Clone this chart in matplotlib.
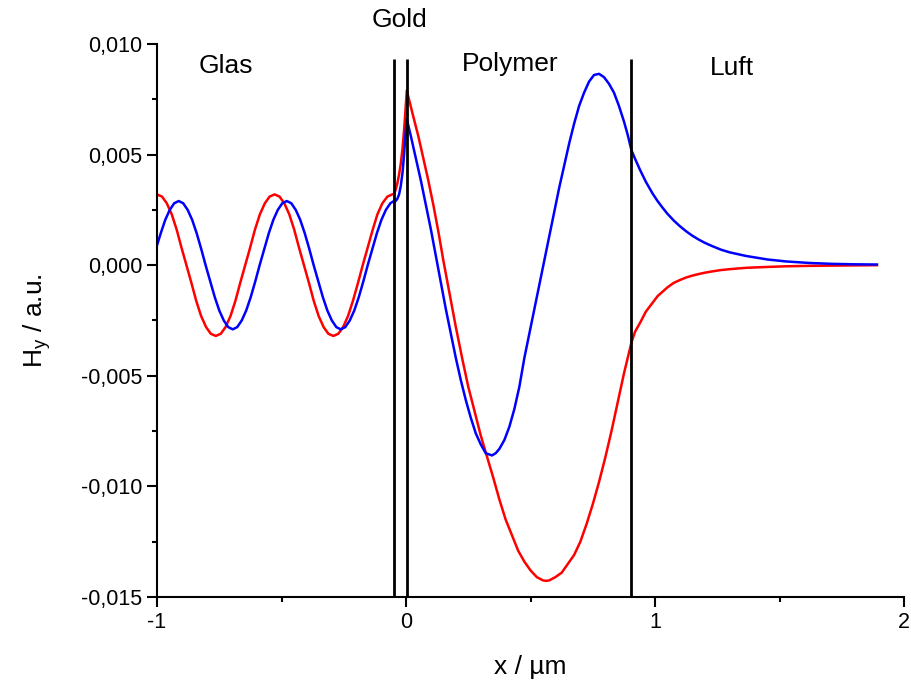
import matplotlib
matplotlib.use('Agg')
import matplotlib.pyplot as plt
from matplotlib.ticker import MultipleLocator, FuncFormatter

plt.rcParams['font.family'] = ['Liberation Sans', 'DejaVu Sans']
plt.rcParams['mathtext.default'] = 'regular'

# Hy (rot), Werte
x_red = [-1.000, -0.980, -0.961, -0.941, -0.921, -0.902, -0.882, -0.862, -0.843, -0.823,
         -0.803, -0.784, -0.764, -0.744, -0.725, -0.705, -0.685, -0.666, -0.646, -0.626,
         -0.607, -0.587, -0.567, -0.548, -0.528, -0.508, -0.489, -0.469, -0.449, -0.430,
         -0.410, -0.390, -0.371, -0.351, -0.331, -0.312, -0.292, -0.272, -0.253, -0.233,
         -0.213, -0.193, -0.174, -0.154, -0.134, -0.115, -0.095, -0.075, -0.056,
         -0.049, -0.042, -0.035, -0.028, -0.021, -0.014, -0.008, -0.003, 0.000, 0.003,
         0.025, 0.050, 0.070, 0.088, 0.110, 0.130, 0.150, 0.175, 0.200, 0.227,
         0.250, 0.275, 0.300, 0.321, 0.350, 0.375, 0.400, 0.425, 0.450, 0.475,
         0.500, 0.525, 0.550, 0.562, 0.575, 0.600, 0.625, 0.650, 0.675, 0.700,
         0.725, 0.750, 0.775, 0.800, 0.825, 0.850, 0.875, 0.905,
         0.920, 0.940, 0.963, 0.990, 1.010, 1.030, 1.050, 1.075, 1.100, 1.124,
         1.150, 1.175, 1.200, 1.230, 1.265, 1.300, 1.364, 1.450, 1.525, 1.620,
         1.712, 1.800, 1.891]
y_red = [0.0032, 0.0031, 0.0028, 0.0023, 0.0016, 0.0008, 0.0000, -0.0008, -0.0016, -0.0023,
         -0.0028, -0.0031, -0.0032, -0.0031, -0.0028, -0.0023, -0.0016, -0.0008, 0.0000, 0.0008,
         0.0016, 0.0023, 0.0028, 0.0031, 0.0032, 0.0031, 0.0028, 0.0023, 0.0016, 0.0008,
         0.0000, -0.0008, -0.0016, -0.0023, -0.0028, -0.0031, -0.0032, -0.0031, -0.0028, -0.0023,
         -0.0016, -0.0008, 0.0000, 0.0008, 0.0016, 0.0023, 0.0028, 0.0031, 0.0032,
         0.00322, 0.0034, 0.0037, 0.0041, 0.0046, 0.0053, 0.0061, 0.0069, 0.0074, 0.0079,
         0.0069, 0.0058, 0.0048, 0.0039, 0.0027, 0.0015, 0.0002, -0.0013, -0.0028, -0.0043,
         -0.0055, -0.0066, -0.0077, -0.0085, -0.0096, -0.0106, -0.0115, -0.0122, -0.0129, -0.0134,
         -0.0138, -0.0141, -0.01425, -0.01427, -0.01425, -0.0141, -0.0139, -0.0135, -0.0131, -0.0125,
         -0.0117, -0.0108, -0.0098, -0.0087, -0.0075, -0.0062, -0.0049, -0.0035,
         -0.0030, -0.0026, -0.0021, -0.0017, -0.0014, -0.0012, -0.0010, -0.0008, -0.00067, -0.00056,
         -0.00047, -0.0004, -0.00034, -0.00028, -0.00022, -0.00018, -0.00012, -0.00008, -0.00005, -0.00003,
         -0.00002, -0.00001, 0.0]

# Hy (blau)
x_blue = [-1.000, -0.985, -0.967, -0.949, -0.931, -0.913, -0.895, -0.877, -0.859, -0.841,
          -0.823, -0.805, -0.786, -0.768, -0.750, -0.732, -0.714, -0.696, -0.678, -0.660,
          -0.642, -0.624, -0.606, -0.588, -0.569, -0.551, -0.533, -0.515, -0.497, -0.479,
          -0.461, -0.443, -0.425, -0.407, -0.389, -0.371, -0.352, -0.334, -0.316, -0.298,
          -0.280, -0.262, -0.244, -0.226, -0.208, -0.190, -0.172, -0.154, -0.135, -0.117,
          -0.099, -0.081, -0.063,
          -0.049, -0.042, -0.035, -0.028, -0.021, -0.014, -0.008, -0.003, 0.000, 0.003,
          0.020, 0.040, 0.060, 0.080, 0.100, 0.120, 0.140, 0.160, 0.180, 0.200,
          0.220, 0.240, 0.260, 0.280, 0.300, 0.320, 0.345, 0.360, 0.375, 0.395,
          0.415, 0.435, 0.455, 0.475, 0.495, 0.515, 0.535, 0.555, 0.575, 0.595,
          0.615, 0.635, 0.655, 0.675, 0.695, 0.715, 0.735, 0.755, 0.775, 0.795,
          0.815, 0.835, 0.855, 0.875, 0.890, 0.905,
          0.920, 0.940, 0.963, 0.990, 1.010, 1.030, 1.050, 1.075, 1.100, 1.124,
          1.150, 1.175, 1.200, 1.230, 1.265, 1.300, 1.364, 1.450, 1.525, 1.620,
          1.712, 1.800, 1.891]
y_blue = [0.0009, 0.00145, 0.00205, 0.0025, 0.0028, 0.0029, 0.0028, 0.0025, 0.00205, 0.00145,
          0.00075, 0.0000, -0.00075, -0.00145, -0.00205, -0.0025, -0.0028, -0.0029, -0.0028, -0.0025,
          -0.00205, -0.00145, -0.00075, 0.0000, 0.00075, 0.00145, 0.00205, 0.0025, 0.0028, 0.0029,
          0.0028, 0.0025, 0.00205, 0.00145, 0.00075, 0.0000, -0.00075, -0.00145, -0.00205, -0.0025,
          -0.0028, -0.0029, -0.0028, -0.0025, -0.00205, -0.00145, -0.00075, 0.0000, 0.00075, 0.00145,
          0.00205, 0.0025, 0.0028,
          0.0029, 0.0029, 0.0030, 0.0032, 0.0036, 0.0042, 0.0050, 0.0058, 0.0062, 0.0066,
          0.0058, 0.0048, 0.0038, 0.0027, 0.0016, 0.0004, -0.0008, -0.0020, -0.0031, -0.0042,
          -0.0052, -0.0061, -0.0069, -0.0076, -0.0081, -0.0085, -0.0086, -0.0085, -0.0083, -0.0079,
          -0.0073, -0.0065, -0.0055, -0.0042, -0.0031, -0.0020, -0.0009, 0.0002, 0.0013, 0.0024,
          0.0035, 0.0045, 0.0055, 0.0064, 0.0072, 0.0078, 0.0083, 0.0086, 0.00865, 0.0085,
          0.0082, 0.0078, 0.0072, 0.0065, 0.0059, 0.0052,
          0.0048, 0.0043, 0.00377, 0.00324, 0.0029, 0.0026, 0.00232, 0.00202, 0.00176, 0.00154,
          0.00133, 0.00116, 0.00101, 0.00086, 0.0007, 0.00058, 0.00042, 0.00026, 0.00017, 0.0001,
          0.00006, 0.00004, 0.00003]

# Grenzflächen und Schichtnamen
interfaces = [-0.049, 0.003, 0.905]
layer_names = ['Glas', 'Gold', 'Polymer', 'Luft']
layer_x = [-0.724, -0.027, 0.419, 1.309]
layer_y = [0.0090, 0.0111, 0.0091, 0.0089]

fig = plt.figure(figsize=(9.12, 6.84), dpi=100)
ax = fig.add_axes([0.1722, 0.1272, 0.8191, 0.8085])

ax.plot(x_red, y_red, color='#ff0000', lw=1.8)
ax.plot(x_blue, y_blue, color='#0000ff', lw=1.8)
ax.vlines(interfaces, -0.015, 0.0093, color='black', lw=2.0)

# Beschriftung der Schichten
for name, tx, ty in zip(layer_names, layer_x, layer_y):
    ax.text(tx, ty, name, ha='center', va='center', fontsize=19, clip_on=False)

ax.set_xlim(-1, 2)
ax.set_ylim(-0.015, 0.010)
ax.spines['top'].set_visible(False)
ax.spines['right'].set_visible(False)
for s in ('left', 'bottom'):
    ax.spines[s].set_linewidth(1.5)

ax.xaxis.set_major_locator(MultipleLocator(1))
ax.xaxis.set_minor_locator(MultipleLocator(0.5))
ax.yaxis.set_major_locator(MultipleLocator(0.005))
ax.yaxis.set_minor_locator(MultipleLocator(0.0025))
ax.xaxis.set_major_formatter(FuncFormatter(lambda v, p: f'{v:.0f}'))
ax.yaxis.set_major_formatter(FuncFormatter(lambda v, p: f'{v:.3f}'.replace('.', ',')))
ax.tick_params(which='major', direction='out', length=7, width=1.5, labelsize=15.5)
ax.tick_params(which='minor', direction='out', length=3.6, width=1.5)

ax.set_xlabel('x / µm', fontsize=19, labelpad=16)
ax.set_ylabel('H$_y$ / a.u.', fontsize=19, labelpad=20)

plt.savefig('out.png', dpi=100)
plt.close()
